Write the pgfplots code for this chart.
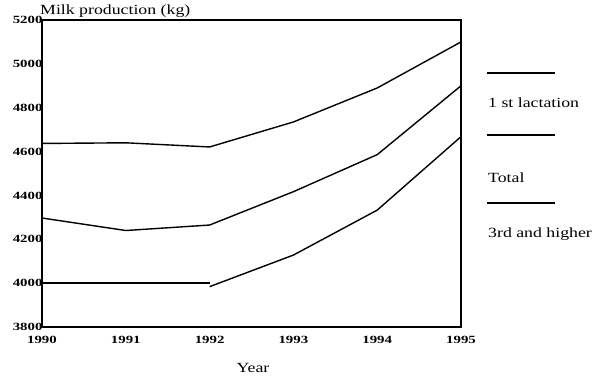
\documentclass[border=0pt]{standalone}
\usepackage{fontspec}
\setmainfont{Liberation Serif}
\newfontfamily\widefont[FakeStretch=1.27]{Liberation Serif}
\newfontfamily\tickfont[FakeStretch=1.35]{Liberation Serif}
\usepackage{pgfplots}
\pgfplotsset{compat=1.18}
\begin{document}
\begin{tikzpicture}[x=1pt,y=1pt]
\useasboundingbox (0,0) rectangle (599,375);
\begin{axis}[
  at={(42pt,48pt)}, anchor=south west,
  scale only axis, width=419pt, height=307pt,
  xmin=1990, xmax=1995, ymin=3800, ymax=5200,
  xtick={1990,1991,1992,1993,1994,1995},
  ytick={3800,4000,4200,4400,4600,4800,5000,5200},
  major tick length=0pt,
  /pgf/number format/1000 sep={},
  /pgf/number format/assume math mode=true,
  ticklabel style={font=\tickfont\fontsize{11}{12}\selectfont\bfseries},
  yticklabel style={xshift=4pt},
  xticklabel style={yshift=-6pt},
  axis line style={line width=1.3pt},
  every axis plot post/.append style={black, mark=none, line width=1.4pt},
]
\addplot coordinates {(1990,4637) (1991,4640) (1992,4621) (1993,4735) (1994,4890) (1995,5100)};
\addplot coordinates {(1990,4297) (1991,4240) (1992,4265) (1993,4417) (1994,4586) (1995,4900)};
\addplot coordinates {(1990,4000) (1991,4000) (1992,4000)};
\addplot coordinates {(1992,3984) (1993,4128) (1994,4333) (1995,4668)};
\end{axis}
\node[anchor=base west, inner sep=0pt, font=\widefont\fontsize{14}{16}\selectfont] at (40,360) {Milk production (kg)};
\node[anchor=base, inner sep=0pt, font=\widefont\fontsize{14}{16}\selectfont] at (253,3) {Year};
\draw[line width=1.4pt] (487,302) -- (555,302);
\draw[line width=1.4pt] (487,240) -- (555,240);
\draw[line width=2pt] (487,172) -- (555,172);
\node[anchor=base west, inner sep=0pt, font=\widefont\fontsize{14}{16}\selectfont] at (488,267) {1 st lactation};
\node[anchor=base west, inner sep=0pt, font=\widefont\fontsize{14}{16}\selectfont] at (488,192) {Total};
\node[anchor=base west, inner sep=0pt, font=\widefont\fontsize{14}{16}\selectfont] at (488,138) {3rd and higher};
\end{tikzpicture}
\end{document}
